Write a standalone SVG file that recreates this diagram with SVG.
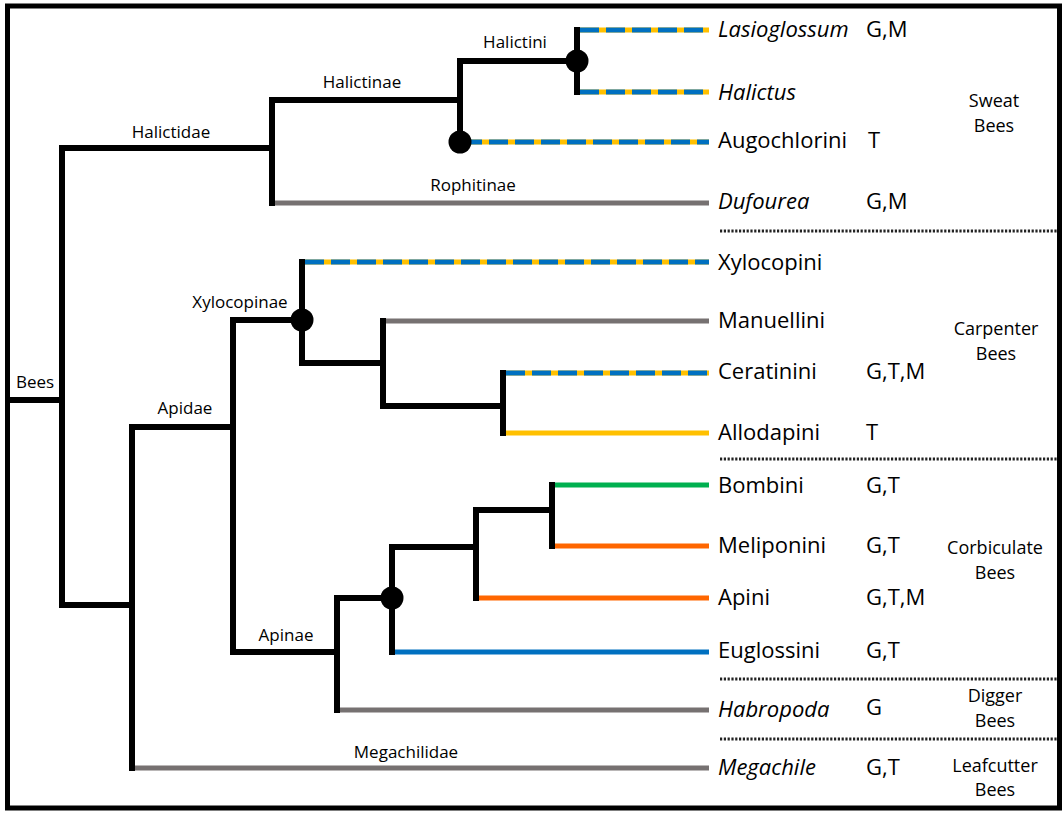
<svg xmlns="http://www.w3.org/2000/svg" width="1064" height="813" viewBox="0 0 1064 813">
<style>
.tree{stroke:#000;stroke-width:6;stroke-linecap:square;fill:none}
.br{stroke-width:5;fill:none}
.gray{stroke:#767171}
.yel{stroke:#FFC000}
.blue{stroke:#0070C0}
.dash{stroke:#0070C0;stroke-dasharray:19 7}
.green{stroke:#00B050}
.orange{stroke:#FF6600}
.dot{fill:#000}
.sep{stroke:#222;stroke-width:3;stroke-dasharray:2.2 1.6;fill:none}
text{font-family:"Open Sans","Liberation Sans",sans-serif;fill:#000}
.tx{font-size:22px}
.it{font-style:italic}
.cl{font-size:17px;text-anchor:middle}
.gr{font-size:18px;text-anchor:middle}
</style>
<rect x="7.5" y="6" width="1052" height="802" fill="#fff" stroke="#000" stroke-width="5"/>
<g id="connectors">
<path class="tree" d="M10 400H62M62 148V605M62 148H272M272 100V203M272 100H460M460 61V142M460 61H577M577 30V92M62 605H132M132 427V768M132 427H233M233 320V652M233 320H302M302 262V363M302 363H383M383 321V406M383 406H503M503 373V433M233 652H337M337 598V710M337 598H392M392 547V652M392 547H476M476 510V598M476 510H552M552 485V546"/>
<g id="branches">
<path class="br yel" d="M580 30H709M580 92H709M463 142H709M305 262H709M506 373H709"/>
<path class="br dash" d="M580 30H709M580 92H709M463 142H709M305 262H709M506 373H709"/>
<path class="br gray" d="M275 203H709M386 321H709M340 710H709M135 768H709"/>
<path class="br yel" d="M506 433H709"/>
<path class="br green" d="M555 485H709"/>
<path class="br orange" d="M555 546H709M479 598H709"/>
<path class="br blue" d="M395 652H709"/>
</g>
</g>
<g id="internal-nodes">
<circle class="dot" cx="577" cy="61" r="11.5"/>
<circle class="dot" cx="460" cy="142" r="11.5"/>
<circle class="dot" cx="302" cy="320" r="11.5"/>
<circle class="dot" cx="392" cy="598" r="11.5"/>
</g>
<g id="clade-labels">
<text class="cl" x="35" y="388">Bees</text>
<text class="cl" x="171" y="138">Halictidae</text>
<text class="cl" x="362" y="88">Halictinae</text>
<text class="cl" x="515" y="48">Halictini</text>
<text class="cl" x="473" y="191">Rophitinae</text>
<text class="cl" x="240" y="308">Xylocopinae</text>
<text class="cl" x="185" y="414">Apidae</text>
<text class="cl" x="286" y="641">Apinae</text>
<text class="cl" x="406" y="758">Megachilidae</text>
</g>
<g id="n-lasioglossum"><text class="tx it" x="718" y="37">Lasioglossum</text><text class="tx" x="866" y="37">G,M</text></g>
<g id="n-halictus"><text class="tx it" x="718" y="100">Halictus</text></g>
<g id="n-augochlorini"><text class="tx" x="718" y="148">Augochlorini</text><text class="tx" x="868" y="148">T</text></g>
<g id="n-dufourea"><text class="tx it" x="718" y="209">Dufourea</text><text class="tx" x="866" y="209">G,M</text></g>
<g id="n-xylocopini"><text class="tx" x="718" y="270">Xylocopini</text></g>
<g id="n-manuellini"><text class="tx" x="718" y="328">Manuellini</text></g>
<g id="n-ceratinini"><text class="tx" x="718" y="379">Ceratinini</text><text class="tx" x="866" y="379">G,T,M</text></g>
<g id="n-allodapini"><text class="tx" x="718" y="440">Allodapini</text><text class="tx" x="866" y="440">T</text></g>
<g id="n-bombini"><text class="tx" x="718" y="493">Bombini</text><text class="tx" x="866" y="493">G,T</text></g>
<g id="n-meliponini"><text class="tx" x="718" y="553">Meliponini</text><text class="tx" x="866" y="553">G,T</text></g>
<g id="n-apini"><text class="tx" x="718" y="605">Apini</text><text class="tx" x="866" y="605">G,T,M</text></g>
<g id="n-euglossini"><text class="tx" x="718" y="658">Euglossini</text><text class="tx" x="866" y="658">G,T</text></g>
<g id="n-habropoda"><text class="tx it" x="718" y="717">Habropoda</text><text class="tx" x="866" y="715">G</text></g>
<g id="n-megachile"><text class="tx it" x="718" y="775">Megachile</text><text class="tx" x="866" y="775">G,T</text></g>
<g id="groups">
<text class="gr" x="994" y="107">Sweat</text><text class="gr" x="994" y="132">Bees</text>
<text class="gr" x="996" y="335">Carpenter</text><text class="gr" x="996" y="360">Bees</text>
<text class="gr" x="995" y="554">Corbiculate</text><text class="gr" x="995" y="579">Bees</text>
<text class="gr" x="995" y="702">Digger</text><text class="gr" x="995" y="727">Bees</text>
<text class="gr" x="995" y="772">Leafcutter</text><text class="gr" x="995" y="796">Bees</text>
</g>
<g id="separators">
<path class="sep" d="M720 231H1058M720 459H1058M720 679H1058M720 739H1058"/>
</g>
</svg>
